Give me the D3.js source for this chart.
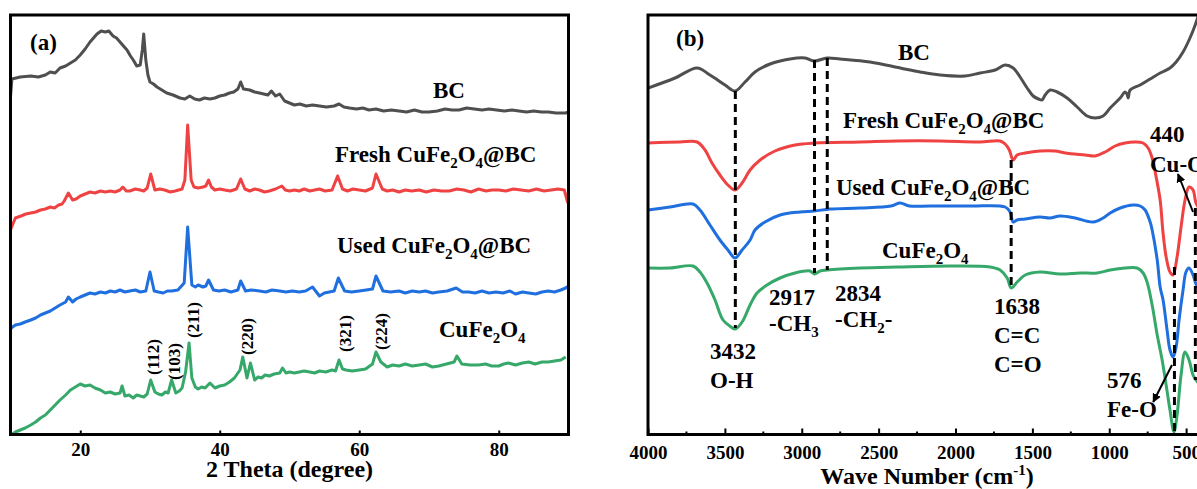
<!DOCTYPE html>
<html><head><meta charset="utf-8">
<script src="https://cdn.jsdelivr.net/npm/d3@7"></script>
<style>
body{margin:0;background:#fff}
svg{display:block}
text{font-family:"Liberation Serif","Times New Roman",serif;font-weight:bold;fill:#000}
</style>
</head><body>
<svg id="chart" width="1197" height="489"></svg>
<script>
// ---------------- DATA ----------------
const xrdTicks = [20, 40, 60, 80];
const ftirTicks = [4000, 3500, 3000, 2500, 2000, 1500, 1000, 500];
const ftirMinorTicks = [3750, 3250, 2750, 2250, 1750, 1250, 750];

const seriesNames = ["BC", "Fresh CuFe2O4@BC", "Used CuFe2O4@BC", "CuFe2O4"];
const seriesColors = ["#4f4f4f", "#ef4343", "#1f6fdf", "#36a86a"];

// XRD: [2theta (degree), intensity (a.u., offset)]
const xrdBC = [[10.0,338],[10.2,356],[11.4,358],[12.9,359],[14.0,358],[15.0,360],[15.7,363],[16.4,362],[17.1,367],[17.9,369],[18.6,372],[19.3,375],[20.0,380],[20.7,386],[21.4,393],[21.9,397],[22.4,401],[23.0,404],[23.6,403],[24.1,404],[24.7,399],[25.2,397],[25.7,393],[26.2,389],[26.7,385],[27.2,379],[27.6,375],[28.1,369],[28.6,370],[28.9,385],[29.1,401],[29.4,375],[29.7,360],[30.0,353],[30.5,351],[31.0,348],[31.7,345],[32.4,342],[33.3,340],[34.3,337],[35.0,336],[35.7,339],[36.4,336],[37.1,335],[37.8,337],[38.6,336],[39.3,337],[40.0,339],[40.7,340],[41.4,342],[42.0,343],[42.6,346],[43.0,353],[43.4,346],[44.3,345],[45.0,343],[45.7,342],[46.3,341],[46.9,340],[47.4,344],[48.0,339],[48.6,341],[49.3,334],[50.0,332],[50.7,330],[51.5,331],[52.4,329],[53.3,330],[54.3,329],[55.3,328],[56.4,329],[57.1,331],[57.8,328],[58.6,327],[59.6,326],[60.5,327],[61.4,325],[62.4,326],[63.5,324],[64.6,325],[65.7,324],[66.8,323],[67.9,325],[69.0,323],[70.0,323],[71.2,324],[72.3,326],[73.3,325],[74.3,325],[75.4,327],[76.5,326],[77.6,325],[78.6,326],[79.7,325],[80.8,324],[81.9,325],[82.9,324],[84.0,323],[85.0,324],[86.1,323],[87.1,323],[88.2,322],[89.6,322],[90.0,323]];
const xrdFresh = [[10.0,205],[10.1,207],[10.7,217],[11.5,219],[12.2,221],[12.9,222],[13.6,223],[14.3,225],[15.0,226],[15.7,228],[16.3,227],[16.9,230],[17.4,231],[17.7,234],[18.3,242],[18.9,235],[19.4,236],[20.0,239],[20.7,241],[21.4,243],[22.1,242],[22.9,244],[23.6,243],[24.3,244],[25.0,243],[25.7,245],[26.1,248],[26.6,244],[27.1,244],[27.9,246],[28.6,245],[29.1,244],[29.6,247],[30.1,261],[30.7,245],[31.4,246],[32.1,245],[32.9,243],[33.6,244],[34.1,245],[34.6,246],[35.0,255],[35.4,310],[35.9,255],[36.3,248],[36.9,247],[37.6,248],[38.0,249],[38.4,255],[38.8,248],[39.3,245],[40.0,246],[40.7,245],[41.5,244],[42.4,246],[43.0,256],[43.6,246],[44.3,244],[45.0,246],[45.7,245],[46.4,243],[47.1,244],[48.0,246],[48.9,249],[49.4,245],[50.0,244],[50.7,245],[51.4,244],[52.1,246],[52.9,244],[53.6,245],[54.3,246],[55.1,244],[56.1,245],[56.9,259],[57.6,246],[58.3,244],[59.1,246],[60.0,245],[60.9,244],[61.9,247],[62.4,261],[63.3,246],[64.0,244],[64.8,245],[65.7,243],[66.6,245],[67.5,244],[68.6,245],[69.6,243],[70.7,245],[71.8,244],[72.9,244],[74.0,246],[75.0,245],[76.0,243],[77.1,246],[78.2,244],[79.0,245],[80.0,245],[81.0,244],[82.1,246],[83.2,245],[84.3,244],[85.4,246],[86.5,244],[87.5,245],[88.5,246],[89.4,245],[89.9,232]];
const xrdUsed = [[10.0,105],[10.1,107],[10.7,110],[11.4,111],[12.1,113],[12.9,115],[13.6,117],[14.3,120],[15.0,122],[15.7,124],[16.4,127],[17.1,130],[17.9,133],[18.3,138],[18.9,133],[19.4,136],[20.0,138],[20.7,140],[21.4,142],[22.1,141],[22.9,143],[23.6,142],[24.3,144],[25.0,143],[25.7,145],[26.4,143],[27.1,144],[27.9,145],[28.6,143],[29.4,144],[30.0,163],[30.6,144],[31.2,143],[31.9,142],[32.5,144],[33.1,144],[34.0,145],[34.9,152],[35.4,208],[36.0,150],[36.5,148],[36.9,150],[37.6,148],[38.0,149],[38.4,155],[39.1,145],[39.9,144],[40.7,145],[41.6,143],[42.6,145],[43.0,154],[43.7,144],[44.5,145],[45.7,144],[46.6,143],[47.5,145],[48.6,144],[49.5,143],[50.4,144],[51.4,143],[52.3,144],[53.3,148],[54.3,139],[55.0,142],[55.7,143],[56.4,144],[57.0,157],[57.9,144],[58.9,143],[60.0,144],[61.0,145],[61.9,146],[62.4,159],[63.4,144],[64.5,143],[65.7,144],[66.6,142],[67.6,144],[68.6,143],[69.5,144],[70.5,142],[71.4,143],[72.6,144],[73.9,147],[74.8,143],[75.7,143],[76.6,142],[77.6,144],[78.6,142],[79.6,143],[80.6,142],[81.6,144],[82.4,141],[83.4,143],[84.3,142],[85.3,141],[86.2,143],[87.1,144],[88.0,143],[88.9,145],[89.6,147],[90.0,149]];
const xrdCuFe2O4 = [[10.1,0],[10.7,3],[11.4,5],[12.1,7],[12.9,10],[13.6,13],[14.3,17],[15.0,20],[15.7,25],[16.4,30],[17.1,35],[17.9,40],[18.6,45],[19.3,48],[20.0,51],[20.7,49],[21.4,50],[22.1,47],[22.9,45],[23.6,42],[24.3,43],[25.0,41],[25.7,42],[26.0,49],[26.4,39],[27.0,40],[27.6,37],[28.1,40],[28.6,39],[29.1,38],[29.6,41],[30.1,55],[30.7,43],[31.2,41],[31.7,40],[32.2,43],[32.6,42],[33.1,55],[33.7,42],[34.2,44],[34.6,47],[35.1,63],[35.6,92],[36.0,57],[36.5,48],[36.9,46],[37.4,48],[37.9,47],[38.6,52],[39.3,47],[40.0,49],[40.7,50],[41.4,53],[42.1,57],[42.9,65],[43.3,78],[43.9,57],[44.4,72],[45.0,55],[45.5,58],[46.0,57],[46.5,60],[47.1,59],[47.8,61],[48.6,62],[49.0,67],[49.5,62],[50.0,63],[50.7,62],[51.4,63],[52.1,64],[52.9,63],[53.6,62],[54.3,64],[55.2,63],[56.1,65],[56.6,64],[57.1,75],[57.6,66],[58.1,65],[59.0,64],[60.0,65],[60.9,66],[61.9,71],[62.4,83],[63.1,73],[64.0,68],[64.8,70],[65.7,69],[66.6,71],[67.6,69],[68.6,70],[69.5,71],[70.5,68],[71.4,69],[72.5,71],[73.6,73],[74.0,79],[74.7,71],[75.9,70],[77.1,70],[78.1,71],[79.0,69],[80.0,69],[80.7,71],[81.4,72],[82.4,70],[83.4,72],[84.3,73],[85.2,71],[86.2,73],[87.1,73],[88.0,74],[88.9,75],[89.6,78]];

// FTIR: [wavenumber (cm-1), transmittance (a.u., offset)]
const ftirBC = [[4000,347],[3824,357],[3681,367],[3597,360],[3499,350],[3434,344],[3369,353],[3304,363],[3206,371],[3076,376],[2979,377],[2917,374],[2835,377],[2751,376],[2556,373],[2360,367],[2230,363],[2100,360],[1938,359],[1840,362],[1742,365],[1677,370],[1625,367],[1580,358],[1534,347],[1495,339],[1460,336],[1437,335],[1417,340],[1385,345],[1339,343],[1274,337],[1209,328],[1144,319],[1092,317],[1040,319],[994,327],[929,337],[897,343],[885,341],[877,337],[864,345],[799,350],[734,356],[669,362],[605,367],[565,373],[520,383],[475,397],[441,410],[420,420],[400,430]];
const ftirFresh = [[4000,292],[3792,293],[3681,293],[3629,285],[3584,272],[3532,260],[3480,250],[3434,245],[3388,252],[3336,265],[3271,275],[3174,284],[3044,290],[2917,292],[2621,293],[2380,294],[2100,294],[1840,293],[1710,294],[1677,291],[1650,285],[1625,275],[1599,280],[1547,282],[1450,284],[1352,284],[1287,282],[1157,280],[1092,279],[1027,283],[962,289],[897,292],[832,293],[780,292],[747,287],[721,277],[695,258],[669,235],[650,202],[630,178],[605,163],[585,160],[559,178],[533,208],[507,235],[481,248],[455,245],[436,232],[409,225]];
const ftirUsed = [[4000,225],[3857,228],[3707,231],[3662,225],[3597,210],[3532,195],[3480,185],[3434,177],[3388,185],[3336,195],[3304,205],[3239,213],[3141,220],[3011,223],[2917,224],[2816,226],[2621,227],[2420,229],[2360,232],[2300,229],[2165,229],[1900,229],[1677,228],[1645,223],[1625,213],[1599,215],[1547,216],[1450,218],[1385,217],[1320,219],[1222,217],[1105,213],[1040,217],[994,222],[929,227],[845,230],[799,229],[767,225],[734,213],[721,205],[688,175],[669,148],[650,135],[624,105],[605,85],[585,78],[565,88],[546,115],[520,145],[501,163],[481,167],[455,160],[436,151],[409,143]];
const ftirCuFe2O4 = [[4000,167],[3857,167],[3707,169],[3662,163],[3616,152],[3564,135],[3512,115],[3460,108],[3432,106],[3388,113],[3336,130],[3291,142],[3226,150],[3141,157],[3044,162],[2946,164],[2917,161],[2881,164],[2835,165],[2621,167],[2380,168],[2035,169],[1775,168],[1710,165],[1664,157],[1638,147],[1599,153],[1547,160],[1450,163],[1320,161],[1189,162],[1079,162],[994,165],[897,167],[819,167],[780,162],[754,153],[721,130],[688,100],[656,75],[630,50],[605,25],[579,3],[559,20],[533,60],[507,83],[481,75],[455,60],[436,55],[409,50]];

// Miller indices of CuFe2O4
const hklLabels = ["(112)", "(103)", "(211)", "(220)", "(321)", "(224)"];
// FTIR assignments
const ftirPeaks = [3432, 2917, 2834, 1638, 576, 440];
const ftirPeakLabels = [["3432","O-H"], ["2917","-CH|3"], ["2834","-CH|2|-"], ["1638","C=C","C=O"], ["576","Fe-O"], ["440","Cu-O"]];

// ---------------- DRAWING ----------------
const svg = d3.select("#chart");
const serif = "'Liberation Serif','Times New Roman',serif";

const topY = 15, bottomY = 434.5;
const y = d3.scaleLinear().domain([0, 420]).range([435, 15]);

const xA = d3.scaleLinear().domain([10, 90]).range([10.5, 568.5]);
const xB = d3.scaleLinear().domain([4000, 400]).range([648, 1201.5]);

const defs = svg.append("defs");
defs.append("clipPath").attr("id", "clipA").append("rect")
  .attr("x", xA(10)).attr("y", topY).attr("width", xA(90) - xA(10)).attr("height", bottomY - topY);
defs.append("clipPath").attr("id", "clipB").append("rect")
  .attr("x", xB(4000)).attr("y", topY).attr("width", xB(400) - xB(4000)).attr("height", bottomY - topY);
defs.append("marker").attr("id", "arrow").attr("viewBox", "0 0 10 10")
  .attr("refX", 9).attr("refY", 5).attr("markerWidth", 4.5).attr("markerHeight", 4.5)
  .attr("orient", "auto").attr("markerUnits", "strokeWidth")
  .append("path").attr("d", "M0,0 L10,5 L0,10 z").attr("fill", "#000");

function richText(g, x, yPos, parts, size, anchor) {
  const t = g.append("text").attr("x", x).attr("y", yPos)
    .attr("font-size", size).attr("text-anchor", anchor || "start");
  parts.forEach((p, i) => {
    if (p === "") return;
    const sub = i % 2 === 1;
    t.append("tspan").text(p)
      .attr("font-size", sub ? size * 0.65 : size)
      .attr("dy", sub ? size * 0.28 : (i > 0 ? -size * 0.28 : 0));
  });
  return t;
}
function splitName(name) {
  return name.replace("Fe2O4", "Fe|2|O|4|").split("|");
}

// ====== PANEL A ======
const gA = svg.append("g");
const lineA = d3.line().x(d => xA(d[0])).y(d => y(d[1])).curve(d3.curveLinear);
const xrdSeries = [xrdBC, xrdFresh, xrdUsed, xrdCuFe2O4];
gA.append("g").attr("clip-path", "url(#clipA)").selectAll("path").data(xrdSeries).join("path")
  .attr("d", lineA).attr("fill", "none")
  .attr("stroke", (d, i) => seriesColors[i]).attr("stroke-width", 3).attr("stroke-linejoin", "round");

const axA = d3.axisBottom(xA).tickValues(xrdTicks).tickSize(-4).tickPadding(8).tickFormat(d3.format("d"));
const gAx = gA.append("g").attr("transform", `translate(0,${bottomY})`).call(axA);
gAx.select(".domain").remove();
gAx.selectAll(".tick line").attr("stroke", "#000").attr("stroke-width", 2);
gAx.selectAll(".tick text").attr("font-size", 19).attr("font-family", serif).attr("font-weight", "bold").attr("fill", "#000");

gA.append("rect").attr("x", xA(10)).attr("y", topY).attr("width", xA(90) - xA(10)).attr("height", bottomY - topY)
  .attr("fill", "none").attr("stroke", "#000").attr("stroke-width", 3);

gA.append("text").attr("x", (xA(10) + xA(90)) / 2).attr("y", 477).attr("text-anchor", "middle")
  .attr("font-size", 24).text("2 Theta (degree)");
gA.append("text").attr("x", 30).attr("y", 50).attr("font-size", 23).text("(a)");

const labelPosA = [[433, 98], [335, 162], [337, 253], [439, 337]];
seriesNames.forEach((n, i) => richText(gA, labelPosA[i][0], labelPosA[i][1], splitName(n), 23));

const hklPos = [[30.4, 60], [33.4, 55], [36.2, 97], [43.9, 80], [58.0, 83], [63.1, 85]];
hklLabels.forEach((l, i) => {
  const px = xA(hklPos[i][0]), py = y(hklPos[i][1]);
  gA.append("text").attr("transform", `translate(${px},${py}) rotate(-90)`)
    .attr("dy", "0.35em").attr("font-size", 17).text(l);
});

// ====== PANEL B ======
const gB = svg.append("g");
const lineB = d3.line().x(d => xB(d[0])).y(d => y(d[1])).curve(d3.curveCatmullRom.alpha(0.5));
const ftirSeries = [ftirBC, ftirFresh, ftirUsed, ftirCuFe2O4];
const plotB = gB.append("g").attr("clip-path", "url(#clipB)");
plotB.selectAll("path").data(ftirSeries).join("path")
  .attr("d", lineB).attr("fill", "none")
  .attr("stroke", (d, i) => seriesColors[i]).attr("stroke-width", 3).attr("stroke-linejoin", "round");

const dashRanges = [[344, 107], [375, 162], [377, 165], [275, 148], [168, 1], [227, 55]];
plotB.selectAll("line.guide").data(ftirPeaks).join("line").attr("class", "guide")
  .attr("x1", d => xB(d)).attr("x2", d => xB(d))
  .attr("y1", (d, i) => y(dashRanges[i][0])).attr("y2", (d, i) => y(dashRanges[i][1]))
  .attr("stroke", "#000").attr("stroke-width", 3).attr("stroke-dasharray", "8,5");

const axB = d3.axisBottom(xB).tickValues(ftirTicks).tickSize(-6).tickPadding(11).tickFormat(d3.format("d"));
const gBx = gB.append("g").attr("transform", `translate(0,${bottomY})`).call(axB);
gBx.select(".domain").remove();
gBx.selectAll(".tick line").attr("stroke", "#000").attr("stroke-width", 2);
gBx.selectAll(".tick text").attr("font-size", 19).attr("font-family", serif).attr("font-weight", "bold").attr("fill", "#000");
gB.append("g").selectAll("line").data(ftirMinorTicks).join("line")
  .attr("x1", d => xB(d)).attr("x2", d => xB(d)).attr("y1", bottomY).attr("y2", bottomY - 3)
  .attr("stroke", "#000").attr("stroke-width", 2);

gB.append("rect").attr("x", xB(4000)).attr("y", topY).attr("width", xB(400) - xB(4000)).attr("height", bottomY - topY)
  .attr("fill", "none").attr("stroke", "#000").attr("stroke-width", 3);

const tB = gB.append("text").attr("x", 927).attr("y", 484).attr("text-anchor", "middle").attr("font-size", 24);
tB.append("tspan").text("Wave Number (cm");
tB.append("tspan").text("-1").attr("font-size", 15).attr("dy", -9);
tB.append("tspan").text(")").attr("dy", 9);

gB.append("text").attr("x", 676).attr("y", 46).attr("font-size", 23).text("(b)");

const labelPosB = [[898, 60], [843, 128], [836, 195], [882, 258]];
seriesNames.forEach((n, i) => richText(gB, labelPosB[i][0], labelPosB[i][1], splitName(n), 23));

const peakLabelPos = [[710, 359], [769, 305], [835, 301], [994, 314], [1107, 388], [1150, 142]];
const peakLineGap = [29, 26, 26, 29, 29, 30];
ftirPeakLabels.forEach((lines, i) => {
  lines.forEach((ln, j) => {
    richText(gB, peakLabelPos[i][0], peakLabelPos[i][1] + j * peakLineGap[i], ln.split("|"), 23);
  });
});

const arrowSegs = [[[592, 70], [714, 33]], [[455, 223], [553, 261]]];
gB.selectAll("line.arrow").data(arrowSegs).join("line").attr("class", "arrow")
  .attr("x1", d => xB(d[0][0])).attr("y1", d => y(d[0][1]))
  .attr("x2", d => xB(d[1][0])).attr("y2", d => y(d[1][1]))
  .attr("stroke", "#000").attr("stroke-width", 2).attr("marker-end", "url(#arrow)");
</script>
</body></html>
